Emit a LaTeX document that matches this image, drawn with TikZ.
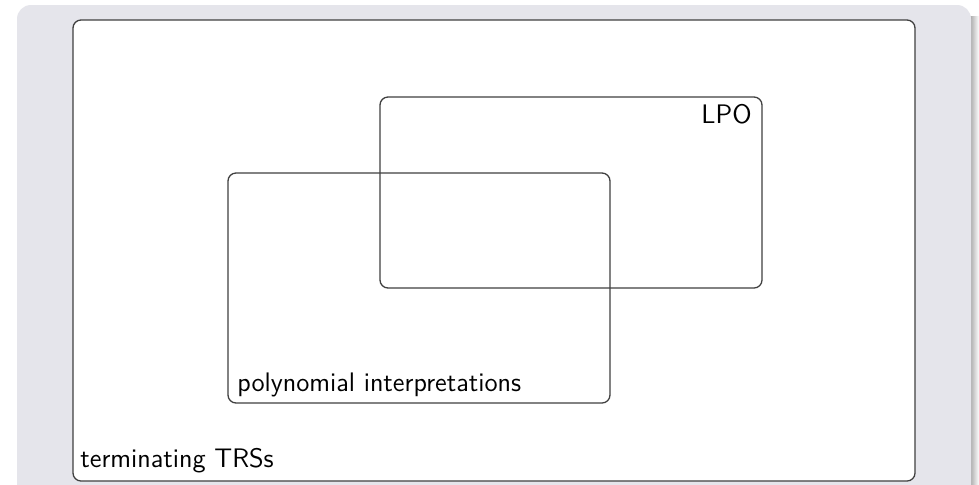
\documentclass[tikz,border=0pt]{standalone}
\usepackage{fontspec}
\setsansfont{Latin Modern Sans}
\renewcommand{\familydefault}{\sfdefault}
\begin{document}
\begin{tikzpicture}[x=0.5pt,y=-0.5pt,
  panel/.style={draw=black!75, line width=0.65pt, rounded corners=4pt},
  lbl/.style={inner sep=0pt, font=\fontsize{13.4}{15}\selectfont}]
\definecolor{blockbg}{RGB}{229,229,235}
\useasboundingbox (0,0) rectangle (979,484);
\fill[white] (0,0) rectangle (979,484);
% drop shadow along the right edge of the block
\shade[left color=black!45, right color=white] (967,16) rectangle (979,484);
% block body
\fill[blockbg, rounded corners=7pt] (17,5) rectangle (971,500);
% outer set: terminating TRSs
\filldraw[panel, fill=white] (73,20) rectangle (915,481);
% LPO
\draw[panel] (380,97) rectangle (762,288);
% polynomial interpretations
\draw[panel] (228,173) rectangle (610,403);
\node[lbl, anchor=base east] (lpo) at (752,123) {LPO};
\node[lbl, anchor=base west] (poly) at (237,391) {polynomial interpretations};
\node[lbl, anchor=base west] (term) at (80,467) {terminating TRSs};
\end{tikzpicture}
\end{document}
